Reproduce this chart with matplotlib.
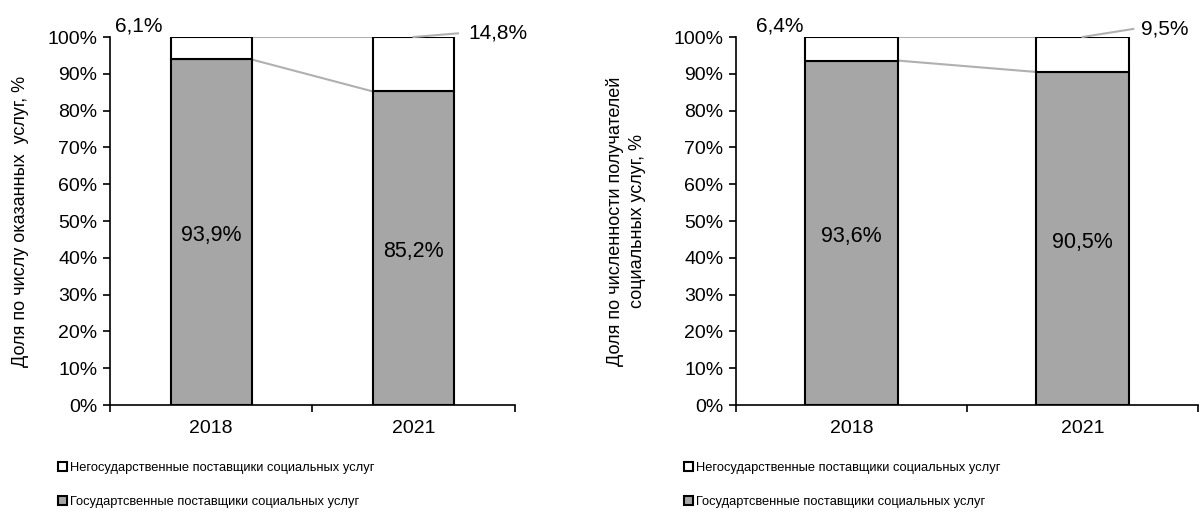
import matplotlib.pyplot as plt
from matplotlib.patches import Patch

plt.rcParams['font.family'] = ['Liberation Sans', 'DejaVu Sans']

years = ['2018', '2021']
# left chart: share by number of services provided
gov_services = [93.9, 85.2]
nongov_services = [6.1, 14.8]
# right chart: share by number of recipients
gov_recipients = [93.6, 90.5]
nongov_recipients = [6.4, 9.5]

ylabels = ['Доля по числу оказанных  услуг, %',
           'Доля по численности получателей\nсоциальных услуг, %']
legend_labels = ['Негосударственные поставщики социальных услуг',
                 'Государтсвенные поставщики социальных услуг']

GRAY = '#a6a6a6'
LINE = '#b0b0b0'
W = 0.4


def draw(ax, gov, nongov, ylabel, first_pos, last_pos, ylpad):
    x = [0.5, 1.5]
    g = [v / 100 for v in gov]
    n = [v / 100 for v in nongov]
    ax.bar(x, g, W, color=GRAY, edgecolor='black', linewidth=1.5, zorder=3)
    ax.bar(x, n, W, bottom=g, color='white', edgecolor='black', linewidth=1.5, zorder=3)

    # series lines between bars
    ax.plot([x[0] + W / 2, x[1] - W / 2], [g[0], g[1]], color=LINE, lw=1.5, zorder=2)
    tops = [g[i] + n[i] for i in range(2)]
    ax.plot([x[0] + W / 2, x[1] - W / 2], [tops[0], tops[1]], color=LINE, lw=1.5, zorder=2)

    for i in range(2):
        ax.text(x[i], g[i] / 2 - 0.01, f'{gov[i]:.1f}%'.replace('.', ','),
                ha='center', va='center', fontsize=15.5, zorder=4)

    ax.text(first_pos[0], first_pos[1], f'{nongov[0]:.1f}%'.replace('.', ','),
            ha='center', va='center', fontsize=15, clip_on=False)
    # leader line for the second label
    ax.plot([x[1], last_pos[2]], [tops[1], last_pos[1]], color=LINE, lw=1.5,
            clip_on=False, zorder=4)
    ax.text(last_pos[0], last_pos[1], f'{nongov[1]:.1f}%'.replace('.', ','),
            ha='left', va='center', fontsize=15, clip_on=False)

    ax.set_xlim(0, 2)
    ax.set_ylim(0, 1)
    ax.set_yticks([i / 10 for i in range(11)])
    ax.set_yticklabels([f'{i * 10}%' for i in range(11)], fontsize=14)
    ax.set_xticks([0, 1, 2])
    ax.set_xticklabels([])
    ax.set_xticks(x, minor=True)
    ax.set_xticklabels(years, minor=True, fontsize=14)
    ax.tick_params(axis='x', which='minor', length=0, pad=11)
    ax.tick_params(axis='y', which='major', pad=4)
    ax.tick_params(axis='both', which='major', length=5, width=1.2, direction='out')
    ax.spines['top'].set_visible(False)
    ax.spines['right'].set_visible(False)
    ax.spines['left'].set_linewidth(1.2)
    ax.spines['bottom'].set_linewidth(1.2)
    ax.set_ylabel(ylabel, fontsize=13, labelpad=ylpad, linespacing=1.4)


fig = plt.figure(figsize=(12.04, 5.17), dpi=100)
ax1 = fig.add_axes([0.0914, 0.2166, 0.336, 0.7118])
ax2 = fig.add_axes([0.6113, 0.2166, 0.3837, 0.7118])

draw(ax1, gov_services, nongov_services, ylabels[0], (0.14, 1.03), (1.77, 1.01, 1.72), 13)
draw(ax2, gov_recipients, nongov_recipients, ylabels[1], (0.19, 1.03), (1.755, 1.022, 1.72), 20)

handles = [Patch(facecolor='white', edgecolor='black', linewidth=1.5),
           Patch(facecolor=GRAY, edgecolor='black', linewidth=1.5)]
for xa in [0.048, 0.568]:
    fig.legend(handles, legend_labels, loc='upper left', bbox_to_anchor=(xa, 0.106),
               frameon=False, fontsize=9.3, handlelength=0.7, handleheight=0.7,
               handletextpad=0.25, labelspacing=1.7, borderaxespad=0, borderpad=0)

fig.savefig('out.png', dpi=100)
